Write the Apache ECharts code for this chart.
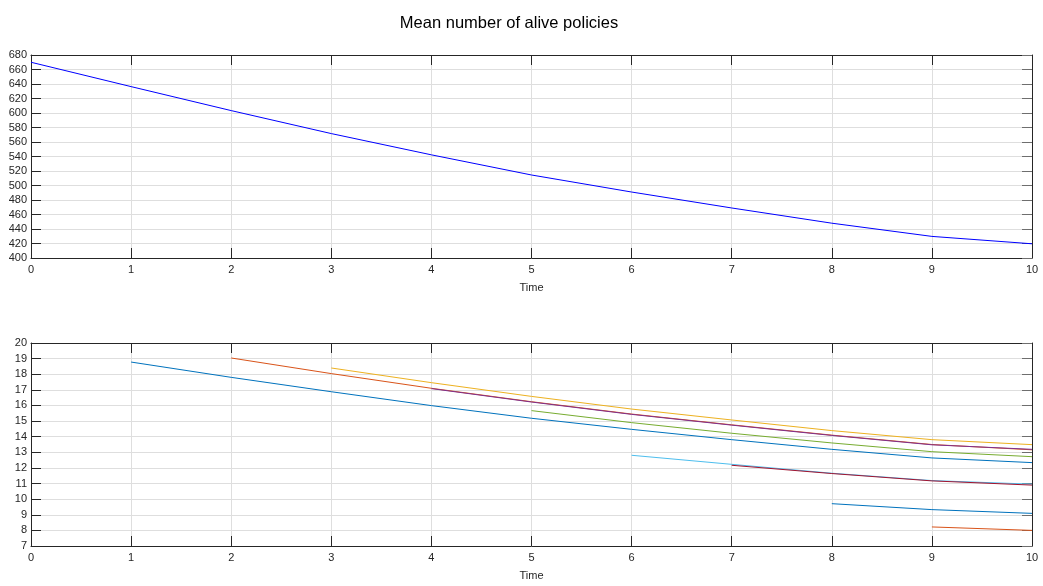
<!DOCTYPE html>
<html>
<head>
<meta charset="utf-8">
<title>Mean number of alive policies</title>
<script src="https://cdn.jsdelivr.net/npm/echarts@6/dist/echarts.min.js"></script>
<style>
  html, body { margin: 0; padding: 0; background: #ffffff; }
  #chart { width: 1043px; height: 586px; }
</style>
</head>
<body>
<div id="chart"></div>
<script>
// Time grid shared by both panels
const timeSteps = [0, 1, 2, 3, 4, 5, 6, 7, 8, 9, 10];

// Upper panel: mean number of alive policies over the whole portfolio
const meanAlive = [670, 636.4, 603.3, 571.6, 542.3, 514.5, 491, 469, 448, 429.8, 419.6];

// Lower panel: one curve per cohort, starting at its entry time
const cohortStart = [1, 2, 3, 4, 5, 6, 7, 8, 9];
const cohort1 = [18.78, 17.8, 16.88, 15.99, 15.18, 14.47, 13.81, 13.19, 12.64, 12.34];
const cohort2 = [19.04, 18.04, 17.1, 16.24, 15.45, 14.76, 14.1, 13.5, 13.16];
const cohort3 = [18.4, 17.46, 16.58, 15.77, 15.07, 14.39, 13.81, 13.49];
const cohort4 = [17.08, 16.22, 15.43, 14.74, 14.08, 13.48, 13.19];
const cohort5 = [15.67, 14.9, 14.22, 13.6, 13.04, 12.72];
const cohort6 = [12.81, 12.23, 11.66, 11.19, 10.96];
const cohort7 = [12.17, 11.64, 11.17, 10.9];
const cohort8 = [9.71, 9.33, 9.09];
const cohort9 = [8.22, 8.0];
const cohorts = [cohort1, cohort2, cohort3, cohort4, cohort5, cohort6, cohort7, cohort8, cohort9];

const lineColors = ['#0072BD', '#D95319', '#EDB120', '#7E2F8E', '#77AC30', '#4DBEEE', '#A2142F', '#0072BD', '#D95319'];

const FONT = '"Liberation Sans", Arial, Helvetica, sans-serif';
const INK = '#262626';
const GRID = '#dedede';

function pairs(start, values) {
  return values.map((v, i) => [timeSteps[timeSteps.indexOf(start) + i], v]);
}

function bottomX(gridIndex) {
  return {
    gridIndex, type: 'value', position: 'bottom', min: 0, max: 10, interval: 1,
    axisLine: { show: true, onZero: false, lineStyle: { color: INK, width: 1 } },
    axisTick: { show: true, inside: true, length: 10, lineStyle: { color: INK } },
    axisLabel: { color: INK, fontSize: 11, fontFamily: FONT, margin: 6 },
    splitLine: { show: true, lineStyle: { color: GRID, width: 1 } },
    name: 'Time', nameLocation: 'middle', nameGap: 24,
    nameTextStyle: { color: INK, fontSize: 11, fontFamily: FONT }
  };
}
function topX(gridIndex) {
  return {
    gridIndex, type: 'value', position: 'top', min: 0, max: 10, interval: 1,
    axisLine: { show: true, onZero: false, lineStyle: { color: INK, width: 1 } },
    axisTick: { show: true, inside: true, length: 10, lineStyle: { color: INK } },
    axisLabel: { show: false }, splitLine: { show: false }
  };
}
function leftY(gridIndex, min, max, interval) {
  return {
    gridIndex, type: 'value', position: 'left', min, max, interval,
    axisLine: { show: true, onZero: false, lineStyle: { color: INK, width: 1 } },
    axisTick: { show: true, inside: true, length: 10, lineStyle: { color: INK } },
    axisLabel: { color: INK, fontSize: 11, fontFamily: FONT, margin: 4 },
    splitLine: { show: true, lineStyle: { color: GRID, width: 1 } }
  };
}
function rightY(gridIndex, min, max, interval) {
  return {
    gridIndex, type: 'value', position: 'right', min, max, interval,
    axisLine: { show: true, onZero: false, lineStyle: { color: INK, width: 1 } },
    axisTick: { show: true, inside: true, length: 10, lineStyle: { color: '#6e6e6e' } },
    axisLabel: { show: false }, splitLine: { show: false }
  };
}

const series = [{
  type: 'line', xAxisIndex: 0, yAxisIndex: 0,
  data: pairs(0, meanAlive),
  showSymbol: false, lineStyle: { color: '#0000FF', width: 1 }, silent: true
}];
cohorts.forEach((values, k) => {
  series.push({
    type: 'line', xAxisIndex: 2, yAxisIndex: 2,
    data: pairs(cohortStart[k], values),
    showSymbol: false, lineStyle: { color: lineColors[k], width: 1 }, silent: true
  });
});

const chart = echarts.init(document.getElementById('chart'), null, { renderer: 'canvas' });
chart.setOption({
  animation: false,
  backgroundColor: '#ffffff',
  title: {
    text: 'Mean number of alive policies',
    left: 504, top: 10, textAlign: 'center',
    textStyle: { color: '#000000', fontSize: 16.5, fontWeight: 'normal', fontFamily: FONT }
  },
  grid: [
    { left: 31, right: 11, top: 55, height: 203, containLabel: false },
    { left: 31, right: 11, top: 343, height: 203, containLabel: false }
  ],
  xAxis: [bottomX(0), topX(0), bottomX(1), topX(1)],
  yAxis: [leftY(0, 400, 680, 20), rightY(0, 400, 680, 20), leftY(1, 7, 20, 1), rightY(1, 7, 20, 1)],
  series
});
</script>
</body>
</html>
